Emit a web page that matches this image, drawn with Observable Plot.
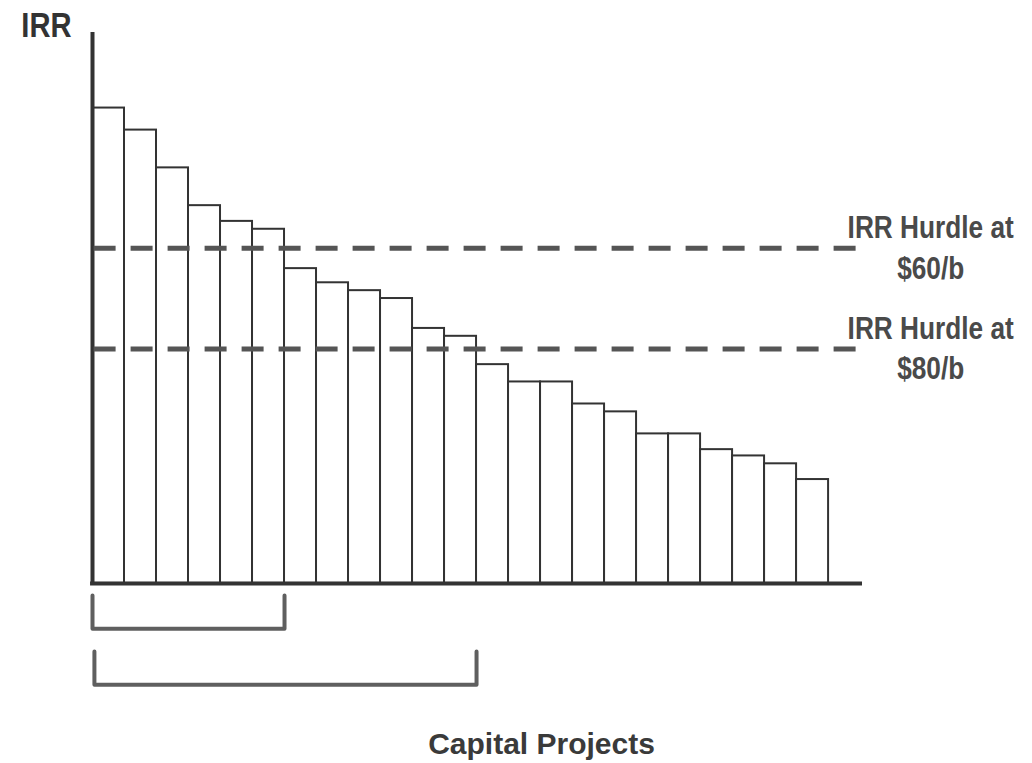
<!DOCTYPE html>
<html>
<head>
<meta charset="utf-8">
<script src="https://cdn.jsdelivr.net/npm/d3@7"></script>
<script src="https://cdn.jsdelivr.net/npm/@observablehq/plot@0.6"></script>
<style>
  body { margin: 0; background: #fff; }
  #chart svg { display: block; }
</style>
</head>
<body>
<div id="chart"></div>
<script>
// Capital projects ranked by IRR (%), highest first
const projects = d3.range(1, 24).map(i => `Project ${i}`);
const irr = [30.2, 28.8, 26.4, 24.0, 23.0, 22.5, 20.0, 19.1, 18.6, 18.1, 16.2, 15.7,
             13.9, 12.8, 12.8, 11.4, 10.9, 9.5, 9.5, 8.5, 8.1, 7.6, 6.6];

// IRR hurdle rates at two oil prices
const hurdleLabels = ["IRR Hurdle at\n$60/b", "IRR Hurdle at\n$80/b"];
const hurdleValues = [21.3, 14.9];

const yTitle = "IRR";
const xTitle = "Capital Projects";

const bars = projects.map((p, i) => ({project: p, index: i, irr: irr[i]}));
const hurdles = hurdleLabels.map((label, i) => ({label, value: hurdleValues[i]}));

const xMax = 24.06;   // axis runs a little past the last project
const yMax = 35;
const yMin = -7.5;    // room under the axis for the brackets

// Bracket under the projects that clear each hurdle
const brackets = hurdles.flatMap((h, i) => {
  const n = irr.filter(v => v > h.value).length;
  const top = -0.76 - i * 3.56;
  const bottom = top - 2.12;
  const x0 = i * 0.06;
  return [
    {bracket: i, x: x0, y: top},
    {bracket: i, x: x0, y: bottom},
    {bracket: i, x: n, y: bottom},
    {bracket: i, x: n, y: top}
  ];
});

const font = "'Liberation Sans', Arial, sans-serif";

const chart = Plot.plot({
  width: 1032,
  height: 763,
  marginLeft: 92,
  marginRight: 170,
  marginTop: 32,
  marginBottom: 62,
  x: {type: "linear", domain: [0, xMax], axis: null},
  y: {type: "linear", domain: [yMin, yMax], axis: null},
  style: {background: "#fff", fontFamily: font},
  marks: [
    Plot.rect(bars, {
      x1: "index", x2: d => d.index + 1, y1: 0, y2: "irr",
      fill: "#fff", stroke: "#333", strokeWidth: 2
    }),
    // axes
    Plot.ruleX([0], {y1: -0.12, y2: yMax, stroke: "#333", strokeWidth: 4}),
    Plot.ruleY([0], {x1: -0.06, x2: xMax, stroke: "#333", strokeWidth: 4}),
    // hurdle lines
    Plot.ruleY(hurdles, {
      y: "value", x1: 0.05, x2: xMax,
      stroke: "#555", strokeWidth: 5, strokeDasharray: "22,15"
    }),
    Plot.text(hurdles, {
      x: 26.19, y: "value", text: "label", dy: -3,
      fontSize: 32, fontWeight: "bold", fill: "#4a4a4a",
      lineHeight: 1.28, textAnchor: "middle",
      ariaDescription: "condensed-0.82"
    }),
    // brackets
    Plot.line(brackets, {
      x: "x", y: "y", z: "bracket",
      stroke: "#5f5f5f", strokeWidth: 4, strokeLinejoin: "round", strokeLinecap: "round"
    }),
    // titles
    Plot.text([yTitle], {
      x: -1.44, y: 35.43, text: d => d,
      fontSize: 36, fontWeight: "bold", fill: "#333", textAnchor: "middle",
      ariaDescription: "condensed-0.81"
    }),
    Plot.text([xTitle], {
      x: 14.03, y: -10.23, text: d => d,
      fontSize: 30, fontWeight: "bold", fill: "#3a3a3a", textAnchor: "middle"
    })
  ]
});

// Narrow the bold labels horizontally around their anchor points
d3.select(chart).selectAll("g[aria-description^='condensed-']").each(function () {
  const k = +this.getAttribute("aria-description").split("-")[1];
  d3.select(this).selectAll("text").each(function () {
    const t = this.getAttribute("transform");
    if (t) {
      this.setAttribute("transform", `${t} scale(${k},1)`);
    } else {
      const x = +this.getAttribute("x") || 0;
      this.setAttribute("transform", `translate(${x},0) scale(${k},1) translate(${-x},0)`);
    }
  });
});

document.getElementById("chart").append(chart);
</script>
</body>
</html>
